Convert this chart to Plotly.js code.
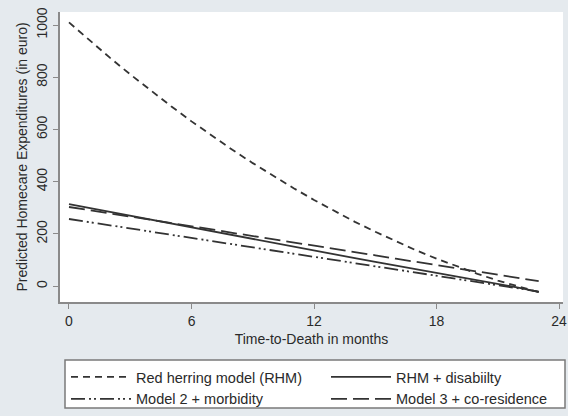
<!DOCTYPE html>
<html>
<head>
<meta charset="utf-8">
<script src="https://cdn.plot.ly/plotly-3.0.1.min.js"></script>
<style>html,body{margin:0;padding:0;background:#e5eaee;}</style>
</head>
<body>
<div id="chart" style="width:568px;height:416px;"></div>
<script>
const months = [0,1,2,3,4,5,6,7,8,9,10,11,12,13,14,15,16,17,18,19,20,21,22,23];
const rhm = [1010,942,875,811,749,689,631,576,522,471,422,375,330,287,246,208,171,137,105,75,47,21,-2,-23];
const rhmDisability = [314,299,284,269,254,239,224,209,194,179,164,149,135,121,107,93,79,65,51,37,23,9,-6,-22];
const model2Morbidity = [257,245,233,221,209,197,185,173,161,149,137,125,113,101,89,77,65,53,41,29,17,5,-8,-21];
const model3Coresidence = [303,291,278,266,254,241,229,217,204,192,180,167,155,143,130,118,105,93,81,68,56,44,31,19];
const seriesNames = ["Red herring model (RHM)", "RHM + disabiilty", "Model 2 + morbidity", "Model 3 + co-residence"];
const xTicks = [0,6,12,18,24];
const yTicks = [0,200,400,600,800,1000];

const lineCol = '#333333';
const traces = [
  {x: months, y: rhm, name: seriesNames[0], legend: 'legend', mode: 'lines', line: {color: lineCol, width: 1.8, dash: '7px,5px'}},
  {x: months, y: rhmDisability, name: seriesNames[1], legend: 'legend2', mode: 'lines', line: {color: lineCol, width: 1.8, dash: 'solid'}},
  {x: months, y: model2Morbidity, name: seriesNames[2], legend: 'legend', mode: 'lines', line: {color: lineCol, width: 1.8, dash: '14px,4px,2px,3px,2px,4px'}},
  {x: months, y: model3Coresidence, name: seriesNames[3], legend: 'legend2', mode: 'lines', line: {color: lineCol, width: 1.8, dash: '16px,6px'}}
];

const font = {family: '"Liberation Sans", Arial, sans-serif', size: 14, color: '#2a2a2a'};
const legendFont = {family: '"Liberation Sans", Arial, sans-serif', size: 14.5, color: '#2a2a2a'};
const W = 568, H = 416, ML = 60, MR = 5, MT = 12, MB = 114;
const pw = W - ML - MR, ph = H - MT - MB;
const px = v => (v - ML) / pw;
const py = v => (H - MB - v) / ph;
const legCommon = {
  orientation: 'v', xanchor: 'left', yanchor: 'top', bgcolor: 'rgba(0,0,0,0)',
  borderwidth: 0, font: legendFont, traceorder: 'normal', itemwidth: 60
};
const layout = {
  width: W, height: H,
  margin: {l: ML, r: MR, t: MT, b: MB, autoexpand: false},
  paper_bgcolor: '#e5eaee',
  plot_bgcolor: '#ffffff',
  font: font,
  showlegend: true,
  xaxis: {
    range: [-0.44, 24.19], tickvals: xTicks, ticktext: xTicks.map(String),
    showgrid: false, zeroline: false, showline: true, linecolor: '#8a8a8a', linewidth: 2,
    ticks: 'outside', ticklen: 5, tickcolor: '#8a8a8a', tickfont: font,
    title: {text: 'Time-to-Death in months', font: font, standoff: 6}
  },
  yaxis: {
    range: [-61, 1050], tickvals: yTicks, ticktext: yTicks.map(String), tickangle: -90,
    showgrid: false, zeroline: false, showline: true, linecolor: '#8a8a8a', linewidth: 2,
    ticks: 'outside', ticklen: 5, tickcolor: '#8a8a8a', tickfont: font,
    title: {text: 'Predicted Homecare Expenditures (in euro)', font: font, standoff: 4}
  },
  legend: Object.assign({}, legCommon, {x: px(66), y: py(361)}),
  legend2: Object.assign({}, legCommon, {x: px(326), y: py(361)}),
  shapes: [{
    type: 'rect', xref: 'paper', yref: 'paper', layer: 'below',
    x0: px(65), x1: px(565), y0: py(360), y1: py(408),
    fillcolor: '#ffffff', line: {color: '#7a7a7a', width: 1.5}
  }]
};
Plotly.newPlot('chart', traces, layout, {staticPlot: true});
</script>
</body>
</html>
